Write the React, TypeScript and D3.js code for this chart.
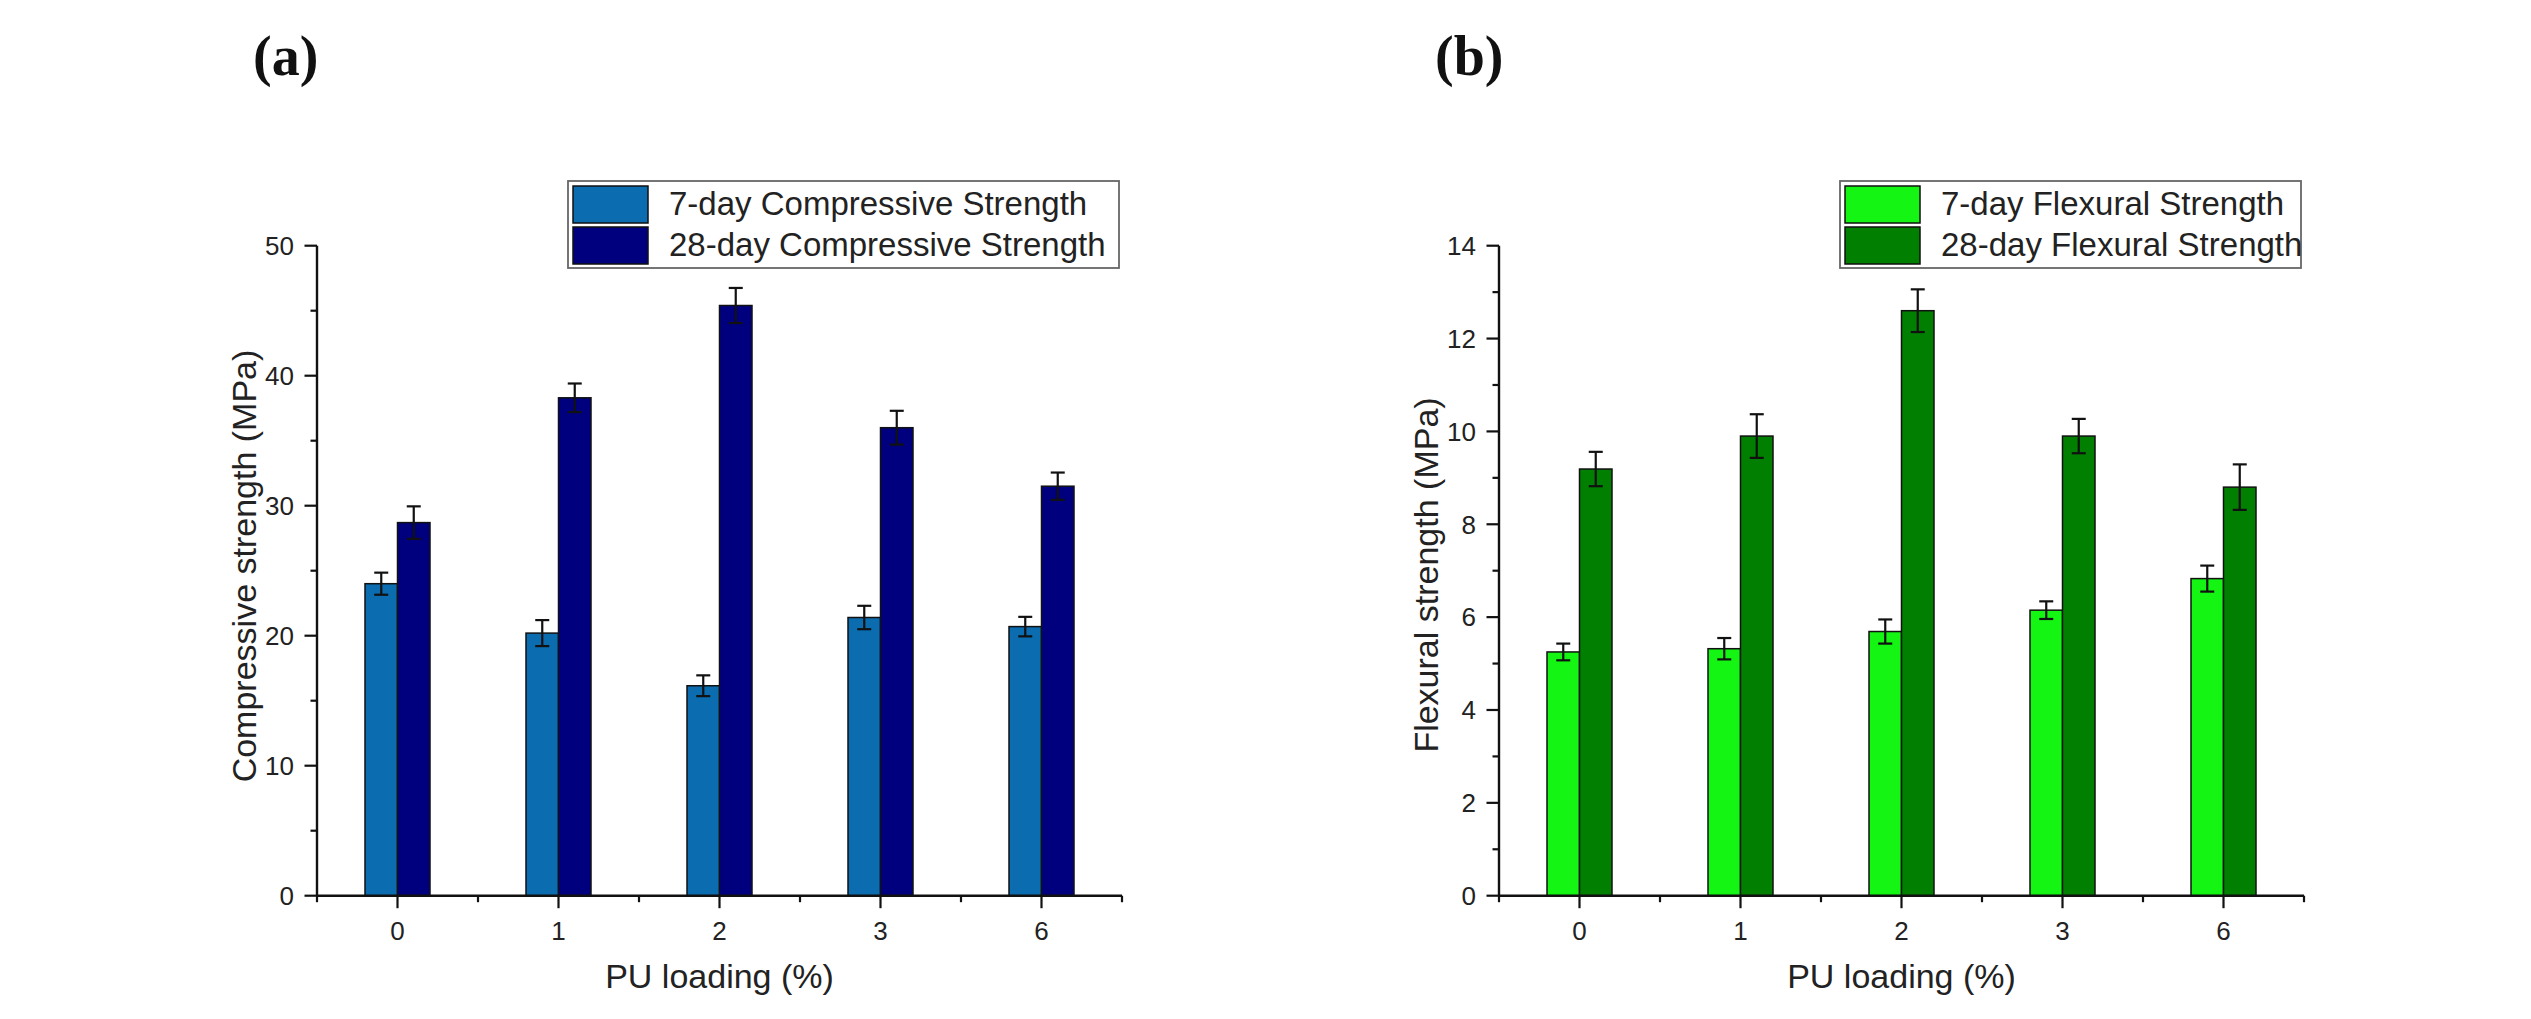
import React, { useEffect } from "react";
import * as d3 from "d3";

// ---- data ----
const categories = ["0", "1", "2", "3", "6"];

const compSeries = ["7-day Compressive Strength", "28-day Compressive Strength"];
const comp7 = [24.0, 20.2, 16.15, 21.4, 20.7];
const comp7Err = [0.85, 1.0, 0.8, 0.9, 0.75];
const comp28 = [28.7, 38.3, 45.4, 36.0, 31.5];
const comp28Err = [1.25, 1.1, 1.35, 1.3, 1.05];
const compTicks = [0, 10, 20, 30, 40, 50];
const compMinor = [5, 15, 25, 35, 45];

const flexSeries = ["7-day Flexural Strength", "28-day Flexural Strength"];
const flex7 = [5.25, 5.32, 5.69, 6.15, 6.83];
const flex7Err = [0.18, 0.23, 0.26, 0.19, 0.28];
const flex28 = [9.19, 9.9, 12.6, 9.9, 8.8];
const flex28Err = [0.37, 0.47, 0.46, 0.37, 0.49];
const flexTicks = [0, 2, 4, 6, 8, 10, 12, 14];
const flexMinor = [1, 3, 5, 7, 9, 11, 13];

const W = 2531;
const H = 1019;
const SANS = "'Liberation Sans', Arial, sans-serif";
const SERIF = "'Liberation Serif', 'Times New Roman', serif";

type PanelProps = {
  left: number;
  label: string;
  yTitle: string;
  yTitleCenter: number;
  yMax: number;
  ticks: number[];
  minor: number[];
  series: string[];
  values: number[][];
  errors: number[][];
  colors: string[];
  legendLeft: number;
};

function Panel(p: PanelProps) {
  const plotW = 805;
  const top = 245.7;
  const bottom = 895.7;
  const x0 = p.left;
  const x1 = p.left + plotW;
  const x = d3.scalePoint<string>().domain(categories).range([x0, x1]).padding(0.5);
  const step = x.step();
  const y = d3.scaleLinear().domain([0, p.yMax]).range([bottom, top]);
  const barW = 32.5;
  const sub = d3
    .scaleBand<number>()
    .domain(p.series.map((_, i) => i))
    .range([-barW, barW])
    .padding(0);
  const minorX = d3.range(categories.length + 1).map((i) => x0 + step * i);
  const capW = 14;

  const legendRight = x1 - 3;
  const legendTop = 181;
  const rowH = 41;

  return (
    <g>
      <text
        x={p.left - 64}
        y={75}
        fontFamily={SERIF}
        fontWeight="bold"
        fontSize={56}
        fill="#111"
      >
        {p.label}
      </text>

      {/* bars */}
      {p.values.map((vals, si) =>
        vals.map((v, ci) => {
          const cx = x(categories[ci])!;
          const bx = cx + sub(si)!;
          return (
            <rect
              key={`b${si}-${ci}`}
              x={bx}
              y={y(v)}
              width={sub.bandwidth()}
              height={bottom - y(v)}
              fill={p.colors[si]}
              stroke="#111"
              strokeWidth={1.5}
            />
          );
        })
      )}

      {/* error bars */}
      {p.values.map((vals, si) =>
        vals.map((v, ci) => {
          const cx = x(categories[ci])! + sub(si)! + sub.bandwidth() / 2;
          const e = p.errors[si][ci];
          const yt = y(v + e);
          const yb = y(v - e);
          return (
            <g key={`e${si}-${ci}`} stroke="#111" strokeWidth={2.2}>
              <line x1={cx} x2={cx} y1={yt} y2={yb} />
              <line x1={cx - capW / 2} x2={cx + capW / 2} y1={yt} y2={yt} />
              <line x1={cx - capW / 2} x2={cx + capW / 2} y1={yb} y2={yb} />
            </g>
          );
        })
      )}

      {/* y axis */}
      <line x1={x0} x2={x0} y1={top} y2={bottom} stroke="#111" strokeWidth={2.4} />
      {p.ticks.map((t) => (
        <g key={`yt${t}`}>
          <line x1={x0 - 12.5} x2={x0} y1={y(t)} y2={y(t)} stroke="#111" strokeWidth={2.2} />
          <text
            x={x0 - 23}
            y={y(t)}
            dy="0.36em"
            textAnchor="end"
            fontFamily={SANS}
            fontSize={26}
            fill="#222"
          >
            {t}
          </text>
        </g>
      ))}
      {p.minor.map((t) => (
        <line
          key={`ym${t}`}
          x1={x0 - 6.5}
          x2={x0}
          y1={y(t)}
          y2={y(t)}
          stroke="#111"
          strokeWidth={2.2}
        />
      ))}

      {/* x axis */}
      <line x1={x0} x2={x1} y1={bottom} y2={bottom} stroke="#111" strokeWidth={2.4} />
      {categories.map((c) => (
        <g key={`xt${c}`}>
          <line
            x1={x(c)!}
            x2={x(c)!}
            y1={bottom}
            y2={bottom + 12.5}
            stroke="#111"
            strokeWidth={2.2}
          />
          <text
            x={x(c)!}
            y={940}
            textAnchor="middle"
            fontFamily={SANS}
            fontSize={26}
            fill="#222"
          >
            {c}
          </text>
        </g>
      ))}
      {minorX.map((mx, i) => (
        <line
          key={`xm${i}`}
          x1={mx}
          x2={mx}
          y1={bottom}
          y2={bottom + 6.5}
          stroke="#111"
          strokeWidth={2.2}
        />
      ))}

      {/* axis titles */}
      <text
        x={(x0 + x1) / 2}
        y={988}
        textAnchor="middle"
        fontFamily={SANS}
        fontSize={34}
        fill="#222"
      >
        PU loading (%)
      </text>
      <text
        transform={`translate(${x0 - 61},${p.yTitleCenter}) rotate(-90)`}
        textAnchor="middle"
        fontFamily={SANS}
        fontSize={34}
        fill="#222"
      >
        {p.yTitle}
      </text>

      {/* legend */}
      <rect
        x={p.legendLeft}
        y={legendTop}
        width={legendRight - p.legendLeft}
        height={87}
        fill="#fff"
        stroke="#666"
        strokeWidth={1.8}
      />
      {p.series.map((s, si) => (
        <g key={`lg${si}`}>
          <rect
            x={p.legendLeft + 5}
            y={legendTop + 5 + si * rowH}
            width={75}
            height={37}
            fill={p.colors[si]}
            stroke="#111"
            strokeWidth={1.5}
          />
          <text
            x={p.legendLeft + 101}
            y={legendTop + 34 + si * rowH}
            fontFamily={SANS}
            fontSize={33}
            fill="#222"
          >
            {s}
          </text>
        </g>
      ))}
    </g>
  );
}

export default function App() {
  useEffect(() => {
    document.body.style.margin = "0";
  }, []);
  return (
    <svg
      width={W}
      height={H}
      viewBox={`0 0 ${W} ${H}`}
      style={{ display: "block", background: "#fff", position: "absolute", left: 0, top: 0 }}
    >
      <rect x={0} y={0} width={W} height={H} fill="#fff" />
      <Panel
        left={317}
        label="(a)"
        yTitle="Compressive strength (MPa)"
        yTitleCenter={566}
        yMax={50}
        ticks={compTicks}
        minor={compMinor}
        series={compSeries}
        values={[comp7, comp28]}
        errors={[comp7Err, comp28Err]}
        colors={["#0b6cb0", "#00007f"]}
        legendLeft={568}
      />
      <Panel
        left={1499}
        label="(b)"
        yTitle="Flexural strength (MPa)"
        yTitleCenter={575}
        yMax={14}
        ticks={flexTicks}
        minor={flexMinor}
        series={flexSeries}
        values={[flex7, flex28]}
        errors={[flex7Err, flex28Err]}
        colors={["#14f514", "#007f00"]}
        legendLeft={1840}
      />
    </svg>
  );
}
